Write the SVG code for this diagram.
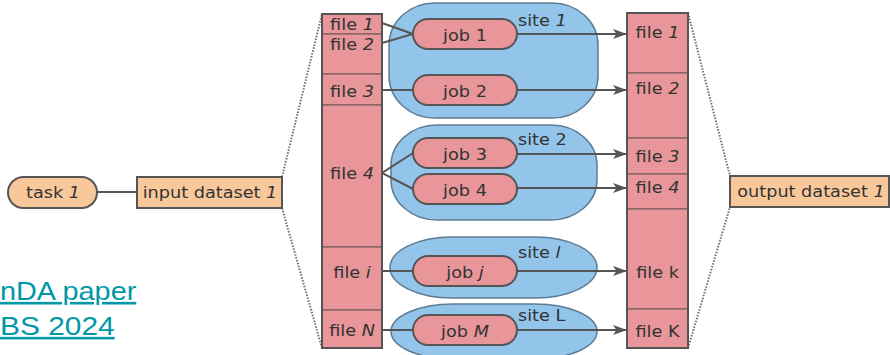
<svg xmlns="http://www.w3.org/2000/svg" width="890" height="355" viewBox="0 0 890 355">
  <defs>
    <style>
      .t { font-family: "DejaVu Sans", Verdana, sans-serif; font-size: 15.5px; fill: #333; text-anchor: middle; }
      .ts { text-anchor: start; }
      .i { font-style: italic; }
      .peach { fill: #f8c89a; stroke: #555; stroke-width: 2; }
      .salmon { fill: #e8969a; stroke: #555; stroke-width: 2; }
      .sec { fill: #e8969a; stroke: #7b5e5e; stroke-width: 1.2; }
      .site { fill: #93c5ea; stroke: #5d7c94; stroke-width: 1.5; }
      .wire { fill: none; stroke: #555; stroke-width: 2; }
      .dot { fill: none; stroke: #6f6f6f; stroke-width: 2; stroke-dasharray: 1.5 1.5; }
      .link { font-family: "Liberation Sans", Arial, sans-serif; font-size: 26px; fill: #0097a7; text-decoration: underline; }
    </style>
    <marker id="arr" markerUnits="userSpaceOnUse" markerWidth="15" markerHeight="11" refX="14" refY="5" orient="auto">
      <path d="M0,0 L14,5 L0,10 L3.5,5 z" fill="#555"/>
    </marker>
  </defs>

  <!-- link text at the left edge -->
  <text class="link" transform="translate(0,300) scale(1.11,1)">nDA paper</text>
  <text class="link" transform="translate(0,335) scale(1.15,1)">BS 2024</text>

  <!-- sites -->
  <g id="site-1">
    <rect class="site" x="389" y="3" width="209" height="115" rx="46" ry="42"/>
    <text class="t ts" transform="translate(518,26) scale(1.14,1)">site <tspan class="i">1</tspan></text>
  </g>
  <g id="site-2">
    <rect class="site" x="391" y="125" width="206" height="95" rx="46" ry="40"/>
    <text class="t ts" transform="translate(518,145) scale(1.14,1)">site 2</text>
  </g>
  <g id="site-l">
    <rect class="site" x="390" y="237" width="207" height="61" rx="62" ry="30.5"/>
    <text class="t ts" transform="translate(518,258) scale(1.14,1)">site <tspan class="i">l</tspan></text>
  </g>
  <g id="site-L">
    <rect class="site" x="391" y="304" width="206" height="55" rx="62" ry="27.5"/>
    <text class="t ts" transform="translate(518,321) scale(1.14,1)">site L</text>
  </g>

  <!-- connectors -->
  <g id="connectors">
    <line class="wire" x1="97" y1="192" x2="137" y2="192"/>
    <line class="dot" x1="282" y1="177" x2="322" y2="14"/>
    <line class="dot" x1="282" y1="208" x2="322" y2="348"/>
    <line class="dot" x1="688" y1="13" x2="730" y2="176"/>
    <line class="dot" x1="688" y1="348" x2="730" y2="207"/>
    <polyline class="wire" points="382,23 413,34 382,43"/>
    <line class="wire" x1="382" y1="90" x2="413" y2="90"/>
    <polyline class="wire" points="413,153 382,173 413,189"/>
    <line class="wire" x1="382" y1="271" x2="413" y2="271"/>
    <line class="wire" x1="382" y1="330" x2="413" y2="330"/>
    <line class="wire" x1="517" y1="34" x2="627" y2="34" marker-end="url(#arr)"/>
    <line class="wire" x1="517" y1="90" x2="627" y2="90" marker-end="url(#arr)"/>
    <line class="wire" x1="517" y1="154" x2="627" y2="154" marker-end="url(#arr)"/>
    <line class="wire" x1="517" y1="188" x2="627" y2="188" marker-end="url(#arr)"/>
    <line class="wire" x1="517" y1="271" x2="627" y2="271" marker-end="url(#arr)"/>
    <line class="wire" x1="517" y1="330" x2="627" y2="330" marker-end="url(#arr)"/>
  </g>

  <!-- task and datasets -->
  <g id="task-1">
    <rect class="peach" x="8" y="177" width="89" height="31" rx="15.5"/>
    <text class="t" transform="translate(53,198) scale(1.14,1)">task <tspan class="i">1</tspan></text>
  </g>
  <g id="input-dataset-1">
    <rect class="peach" x="137" y="177" width="145" height="31"/>
    <text class="t" transform="translate(210,198) scale(1.14,1)">input dataset <tspan class="i">1</tspan></text>
  </g>
  <g id="output-dataset-1">
    <rect class="peach" x="730" y="176" width="159" height="31"/>
    <text class="t" transform="translate(811,197) scale(1.14,1)">output dataset <tspan class="i">1</tspan></text>
  </g>

  <!-- jobs -->
  <g id="job-1">
    <rect class="salmon" x="413" y="19" width="104" height="30" rx="15"/>
    <text class="t" transform="translate(465,41) scale(1.14,1)">job 1</text>
  </g>
  <g id="job-2">
    <rect class="salmon" x="413" y="75" width="104" height="30" rx="15"/>
    <text class="t" transform="translate(465,97) scale(1.14,1)">job 2</text>
  </g>
  <g id="job-3">
    <rect class="salmon" x="413" y="138" width="104" height="30" rx="15"/>
    <text class="t" transform="translate(465,160) scale(1.14,1)">job 3</text>
  </g>
  <g id="job-4">
    <rect class="salmon" x="413" y="174" width="104" height="30" rx="15"/>
    <text class="t" transform="translate(465,196) scale(1.14,1)">job 4</text>
  </g>
  <g id="job-j">
    <rect class="salmon" x="413" y="256" width="104" height="30" rx="15"/>
    <text class="t" transform="translate(465,278) scale(1.14,1)">job <tspan class="i">j</tspan></text>
  </g>
  <g id="job-M">
    <rect class="salmon" x="413" y="315" width="104" height="30" rx="15"/>
    <text class="t" transform="translate(465,337) scale(1.14,1)">job <tspan class="i">M</tspan></text>
  </g>

  <!-- input files column -->
  <g id="input-files">
    <g id="in-file-1">
      <rect class="sec" x="322" y="14" width="60" height="20"/>
      <text class="t" transform="translate(352,30) scale(1.14,1)">file <tspan class="i">1</tspan></text>
    </g>
    <g id="in-file-2">
      <rect class="sec" x="322" y="34" width="60" height="40"/>
      <text class="t" transform="translate(352,50) scale(1.14,1)">file <tspan class="i">2</tspan></text>
    </g>
    <g id="in-file-3">
      <rect class="sec" x="322" y="74" width="60" height="31"/>
      <text class="t" transform="translate(352,97) scale(1.14,1)">file <tspan class="i">3</tspan></text>
    </g>
    <g id="in-file-4">
      <rect class="sec" x="322" y="105" width="60" height="142"/>
      <text class="t" transform="translate(352,179) scale(1.14,1)">file <tspan class="i">4</tspan></text>
    </g>
    <g id="in-file-i">
      <rect class="sec" x="322" y="247" width="60" height="63"/>
      <text class="t" transform="translate(352,278) scale(1.14,1)">file <tspan class="i">i</tspan></text>
    </g>
    <g id="in-file-N">
      <rect class="sec" x="322" y="310" width="60" height="38"/>
      <text class="t" transform="translate(352,336) scale(1.14,1)">file <tspan class="i">N</tspan></text>
    </g>
    <rect x="322" y="14" width="60" height="334" fill="none" stroke="#555" stroke-width="2"/>
  </g>

  <!-- output files column -->
  <g id="output-files">
    <g id="out-file-1">
      <rect class="sec" x="627" y="13" width="61" height="60"/>
      <text class="t" transform="translate(657.5,38) scale(1.14,1)">file <tspan class="i">1</tspan></text>
    </g>
    <g id="out-file-2">
      <rect class="sec" x="627" y="73" width="61" height="65"/>
      <text class="t" transform="translate(657.5,94) scale(1.14,1)">file <tspan class="i">2</tspan></text>
    </g>
    <g id="out-file-3">
      <rect class="sec" x="627" y="138" width="61" height="36"/>
      <text class="t" transform="translate(657.5,162) scale(1.14,1)">file <tspan class="i">3</tspan></text>
    </g>
    <g id="out-file-4">
      <rect class="sec" x="627" y="174" width="61" height="35"/>
      <text class="t" transform="translate(657.5,193) scale(1.14,1)">file <tspan class="i">4</tspan></text>
    </g>
    <g id="out-file-k">
      <rect class="sec" x="627" y="209" width="61" height="100"/>
      <text class="t" transform="translate(657.5,278) scale(1.14,1)">file k</text>
    </g>
    <g id="out-file-K">
      <rect class="sec" x="627" y="309" width="61" height="39"/>
      <text class="t" transform="translate(657.5,337) scale(1.14,1)">file K</text>
    </g>
    <rect x="627" y="13" width="61" height="335" fill="none" stroke="#555" stroke-width="2"/>
  </g>
</svg>
